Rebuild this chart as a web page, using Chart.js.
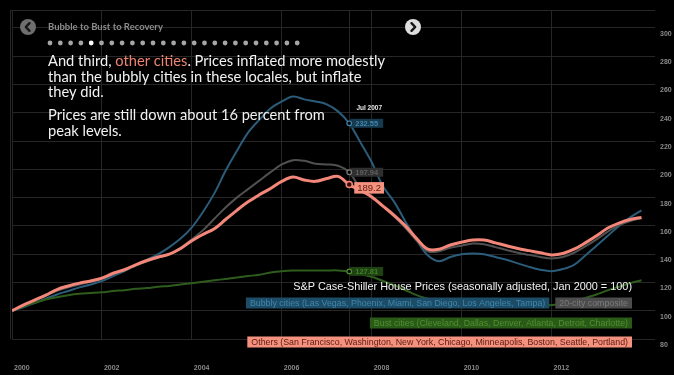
<!DOCTYPE html>
<html>
<head>
<meta charset="utf-8">
<script src="https://cdn.jsdelivr.net/npm/chart.js@4.4.1/dist/chart.umd.min.js"></script>
<style>
  html, body { margin: 0; padding: 0; background: #000; }
  #chart { display: block; }
</style>
</head>
<body>
<canvas id="chart" width="674" height="375"></canvas>
<script>
// quarterly readings, Jan 2000 = 100
const dates = [
  2000, 2000.25, 2000.5, 2000.75, 2001, 2001.25, 2001.5, 2001.75,
  2002, 2002.25, 2002.5, 2002.75, 2003, 2003.25, 2003.5, 2003.75,
  2004, 2004.25, 2004.5, 2004.75, 2005, 2005.25, 2005.5, 2005.75,
  2006, 2006.25, 2006.5, 2006.75, 2007, 2007.25, 2007.5, 2007.75,
  2008, 2008.25, 2008.5, 2008.75, 2009, 2009.25, 2009.5, 2009.75,
  2010, 2010.25, 2010.5, 2010.75, 2011, 2011.25, 2011.5, 2011.75,
  2012, 2012.25, 2012.5, 2012.75, 2013, 2013.25, 2013.5, 2013.75,
  2014
];
const bubblyCities = [
  100, 102.5, 105.5, 108.5, 111.5, 114, 116.5, 118.5,
  121, 124.5, 128, 132, 136, 140, 145, 151,
  159, 170, 183, 199, 213, 226, 235, 243,
  248, 251.5, 249.5, 248, 246, 241, 232.55, 219,
  205, 188, 177, 163, 150, 139, 135, 138,
  140, 140.5, 140, 138, 136, 133.5, 131, 129,
  128, 129.5, 132.5, 139, 146, 153, 160, 166,
  171
];
const composite20 = [
  100, 103.5, 107, 110.5, 114, 116.5, 118.5, 120.5,
  122.5, 126, 128.5, 132, 135, 137.5, 140, 144.5,
  150.5, 157, 165, 173, 180, 186, 192, 198,
  203.5, 206.5, 206, 204, 203.5, 202.5, 197.94, 186.5,
  181, 174, 166.5, 158.5, 149.5, 142, 142, 144.5,
  146, 147.5, 147, 145, 143, 141, 139.5, 138,
  137, 138, 141, 145.5, 150.5, 156, 160.5, 163.5,
  165.5
];
const bustCities = [
  100, 103, 105.5, 108, 109.5, 111, 112, 112.5,
  113, 114, 114.5, 115.5, 116, 117, 117.5, 118.5,
  119.5, 120.5, 121.5, 122.5, 123.5, 124.5, 125.5, 127,
  128, 128.5, 128.5, 128.5, 128.5, 128.5, 127.81, 126,
  124, 121, 118, 114.5, 111, 108.5, 108, 108,
  107.5, 107.5, 106.5, 105, 104, 103.5, 103.5, 103.5,
  104, 105, 107, 109, 111.5, 114.5, 117, 119.5,
  121.5
];
const otherCities = [
  100, 104, 107.5, 111, 115, 117.5, 119.5, 121,
  123, 126.5, 129, 132.5, 135.5, 138, 140, 144,
  149.5, 154, 158, 164.5, 171, 177, 182, 186.5,
  191.5, 194.5, 192.5, 191.5, 193.5, 195, 189.2, 185,
  180.5, 174, 167.5, 160, 151, 143.5, 143.5, 146.5,
  148.5, 150, 150, 148, 146, 144, 142.5, 141,
  139.5, 140.5, 143.5, 148, 153, 158.5, 162, 164.5,
  166
];
const seriesNames = [
  'Bubbly cities (Las Vegas, Phoenix, Miami, San Diego, Los Angeles, Tampa)',
  '20-city composite',
  'Bust cities (Cleveland, Dallas, Denver, Atlanta, Detroit, Charlotte)',
  'Others (San Francisco, Washington, New York, Chicago, Minneapolis, Boston, Seattle, Portland)'
];
const xTicks = [2000, 2002, 2004, 2006, 2008, 2010, 2012];
const yTicks = [80, 100, 120, 140, 160, 180, 200, 220, 240, 260, 280, 300];
const hoverDate = 2007.5;
const hoverLabel = 'Jul 2007';
const chartTitle = 'S&P Case-Shiller House Prices (seasonally adjusted, Jan 2000 = 100)';
const headerTitle = 'Bubble to Bust to Recovery';

const styles = [
  { line: '#2b5c7a', box: '#1d4c66', text: '#4086ae', tagBox: '#163a4e', tagText: '#4086ae', width: 2 },
  { line: '#505050', box: '#4c4c4c', text: '#7c7c7c', tagBox: '#2f2f2f', tagText: '#606060', width: 2 },
  { line: '#2e5c1c', box: '#2a5a17', text: '#4f9030', tagBox: '#1f4212', tagText: '#41802a', width: 2 },
  { line: '#f3877a', box: '#f4917f', text: '#5c1a0e', tagBox: '#f4917f', tagText: '#5c1a0e', width: 3 }
];
const GRID = '#262626';
const SALMON = '#ec8470';

function points(values) {
  return dates.map((d, i) => ({ x: d, y: values[i] }));
}

function fitFont(ctx, text, weight, family, width) {
  ctx.font = weight + ' 20px ' + family;
  const size = 20 * width / ctx.measureText(text).width;
  return weight + ' ' + size.toFixed(2) + 'px ' + family;
}

function chevron(ctx, cx, cy, dir, fill) {
  ctx.fillStyle = fill;
  ctx.beginPath();
  ctx.arc(cx, cy, 8, 0, Math.PI * 2);
  ctx.fill();
  ctx.strokeStyle = '#151515';
  ctx.lineWidth = 2.4;
  ctx.lineCap = 'round';
  ctx.lineJoin = 'round';
  ctx.beginPath();
  ctx.moveTo(cx - dir * 1.5, cy - 3.8);
  ctx.lineTo(cx + dir * 2.2, cy);
  ctx.lineTo(cx - dir * 1.5, cy + 3.8);
  ctx.stroke();
}

const overlay = {
  id: 'overlay',
  beforeDraw(chart) {
    const ctx = chart.ctx;
    ctx.save();
    ctx.fillStyle = '#000';
    ctx.fillRect(0, 0, chart.width, chart.height);
    ctx.restore();
  },
  beforeDatasetsDraw(chart) {
    const { ctx, chartArea: a, scales: { x } } = chart;
    ctx.save();
    ctx.strokeStyle = GRID;
    ctx.lineWidth = 1;
    ctx.beginPath();
    ctx.moveTo(a.left - 2, a.top + 0.5);
    ctx.lineTo(a.right, a.top + 0.5);
    ctx.moveTo(a.left - 1.5, a.top);
    ctx.lineTo(a.left - 1.5, a.bottom);
    const hx = Math.round(x.getPixelForValue(hoverDate)) + 0.5;
    ctx.moveTo(hx, a.top);
    ctx.lineTo(hx, a.bottom);
    ctx.stroke();
    ctx.restore();
  },
  afterDatasetsDraw(chart) {
    const ctx = chart.ctx;
    const idx = dates.indexOf(hoverDate);
    ctx.save();

    // hover tags
    ctx.textBaseline = 'middle';
    ctx.textAlign = 'left';
    let topY = Infinity;
    let tagX = 0;
    chart.data.datasets.forEach((ds, i) => {
      const p = chart.getDatasetMeta(i).data[idx];
      const st = styles[i];
      const v = ds.data[idx].y;
      topY = Math.min(topY, p.y);
      tagX = p.x;
      if (i === 3) {
        ctx.font = '9.5px "Liberation Sans"';
        const w = ctx.measureText(v.toFixed(1)).width + 6;
        ctx.fillStyle = st.tagBox;
        ctx.fillRect(p.x + 5, p.y - 2.5, w, 11.5);
        ctx.fillStyle = st.tagText;
        ctx.fillText(v.toFixed(1), p.x + 8, p.y + 3.3);
        ctx.beginPath();
        ctx.arc(p.x, p.y, 3, 0, Math.PI * 2);
        ctx.fillStyle = '#3a0a06';
        ctx.fill();
        ctx.strokeStyle = st.line;
        ctx.lineWidth = 1.5;
        ctx.stroke();
      } else {
        ctx.font = 'bold 7.5px "Liberation Sans"';
        const w = ctx.measureText(v.toFixed(2)).width + 10;
        ctx.fillStyle = st.tagBox;
        ctx.fillRect(p.x + 1, p.y - 4.5, w, 9);
        ctx.fillStyle = st.tagText;
        ctx.fillText(v.toFixed(2), p.x + 6, p.y + 0.5);
        ctx.beginPath();
        ctx.arc(p.x, p.y, 2.3, 0, Math.PI * 2);
        ctx.fillStyle = '#000';
        ctx.fill();
        ctx.strokeStyle = st.text;
        ctx.lineWidth = 1.2;
        ctx.stroke();
      }
    });
    ctx.font = 'bold 6.5px "Liberation Sans"';
    ctx.fillStyle = '#e8e8e8';
    ctx.textAlign = 'center';
    ctx.fillText(hoverLabel, tagX + 20, topY - 15);

    // legend
    ctx.textAlign = 'left';
    ctx.font = fitFont(ctx, seriesNames[3], 'normal', '"Liberation Sans"', 377);
    function tag(text, right, cy, st) {
      const w = ctx.measureText(text).width + 8;
      ctx.fillStyle = st.box;
      ctx.fillRect(right - w, cy - 5.5, w, 11);
      ctx.fillStyle = st.text;
      ctx.fillText(text, right - w + 4, cy + 0.5);
      return right - w;
    }
    const left = tag(seriesNames[1], 632, 303, styles[1]);
    tag(seriesNames[0], left - 6, 303, styles[0]);
    tag(seriesNames[2], 632, 323, styles[2]);
    tag(seriesNames[3], 632, 342, styles[3]);

    ctx.font = fitFont(ctx, chartTitle, 'normal', '"Liberation Sans"', 339);
    ctx.fillStyle = '#f2f2f2';
    ctx.textAlign = 'right';
    ctx.fillText(chartTitle, 632, 287);

    // header
    chevron(ctx, 28, 27, -1, '#6e6e6e');
    chevron(ctx, 413, 27, 1, '#dedede');
    ctx.textAlign = 'left';
    ctx.font = fitFont(ctx, headerTitle, 'bold', 'Lato', 115);
    ctx.fillStyle = '#8c8c8c';
    ctx.fillText(headerTitle, 48, 27);
    for (let i = 0; i < 25; i++) {
      ctx.beginPath();
      ctx.arc(50 + i * 10.3, 43, 2.4, 0, Math.PI * 2);
      ctx.fillStyle = i === 4 ? '#ffffff' : '#a6a6a6';
      ctx.fill();
    }

    // story text
    const WHITE = '#f2f2f2';
    const lines = [
      [['And third, ', WHITE], ['other cities', SALMON], ['. Prices inflated more modestly', WHITE]],
      [['than the bubbly cities in these locales, but inflate', WHITE]],
      [['they did.', WHITE]],
      [['Prices are still down about 16 percent from', WHITE]],
      [['peak levels.', WHITE]]
    ];
    const baselines = [66, 81.5, 97, 120, 136];
    ctx.font = fitFont(ctx, lines[0].map(s => s[0]).join(''), 'normal', 'Lato', 337);
    ctx.textBaseline = 'alphabetic';
    lines.forEach((parts, li) => {
      let tx = 48;
      parts.forEach(([t, c]) => {
        ctx.fillStyle = c;
        ctx.fillText(t, tx, baselines[li]);
        tx += ctx.measureText(t).width;
      });
    });
    ctx.restore();
  }
};

const values = [bubblyCities, composite20, bustCities, otherCities];

new Chart(document.getElementById('chart'), {
  type: 'line',
  data: {
    datasets: values.map((v, i) => ({
      label: seriesNames[i],
      data: points(v),
      borderColor: styles[i].line,
      borderWidth: styles[i].width,
      order: 3 - i,
      pointRadius: 0,
      tension: 0.35,
      fill: false
    }))
  },
  options: {
    responsive: false,
    animation: false,
    devicePixelRatio: 1,
    layout: { padding: { left: 12, top: 10, right: 0, bottom: 0 } },
    plugins: { legend: { display: false }, tooltip: { enabled: false } },
    scales: {
      x: {
        type: 'linear',
        min: 2000,
        max: 2014.3,
        afterBuildTicks: a => { a.ticks = xTicks.map(v => ({ value: v })); },
        afterFit: a => { a.height = 36; },
        grid: { color: GRID, drawTicks: true, tickLength: 25, tickColor: 'rgba(0,0,0,0)' },
        border: { display: false },
        ticks: {
          align: 'start',
          labelOffset: 2,
          padding: 0,
          maxRotation: 0,
          autoSkip: false,
          color: '#8a8a8a',
          font: { size: 7, weight: 'bold', family: '"Liberation Sans"' },
          callback: v => String(v)
        }
      },
      y: {
        position: 'right',
        min: 80,
        max: 312.7,
        afterBuildTicks: a => { a.ticks = yTicks.map(v => ({ value: v })); },
        afterFit: a => { a.width = 19; },
        grid: { color: GRID, drawTicks: true, tickLength: 5, tickColor: 'rgba(0,0,0,0)' },
        border: { display: false },
        ticks: {
          padding: 0,
          labelOffset: 6,
          color: '#8a8a8a',
          font: { size: 7, weight: 'bold', family: '"Liberation Sans"' },
          callback: v => String(v)
        }
      }
    }
  },
  plugins: [overlay]
});
</script>
</body>
</html>
